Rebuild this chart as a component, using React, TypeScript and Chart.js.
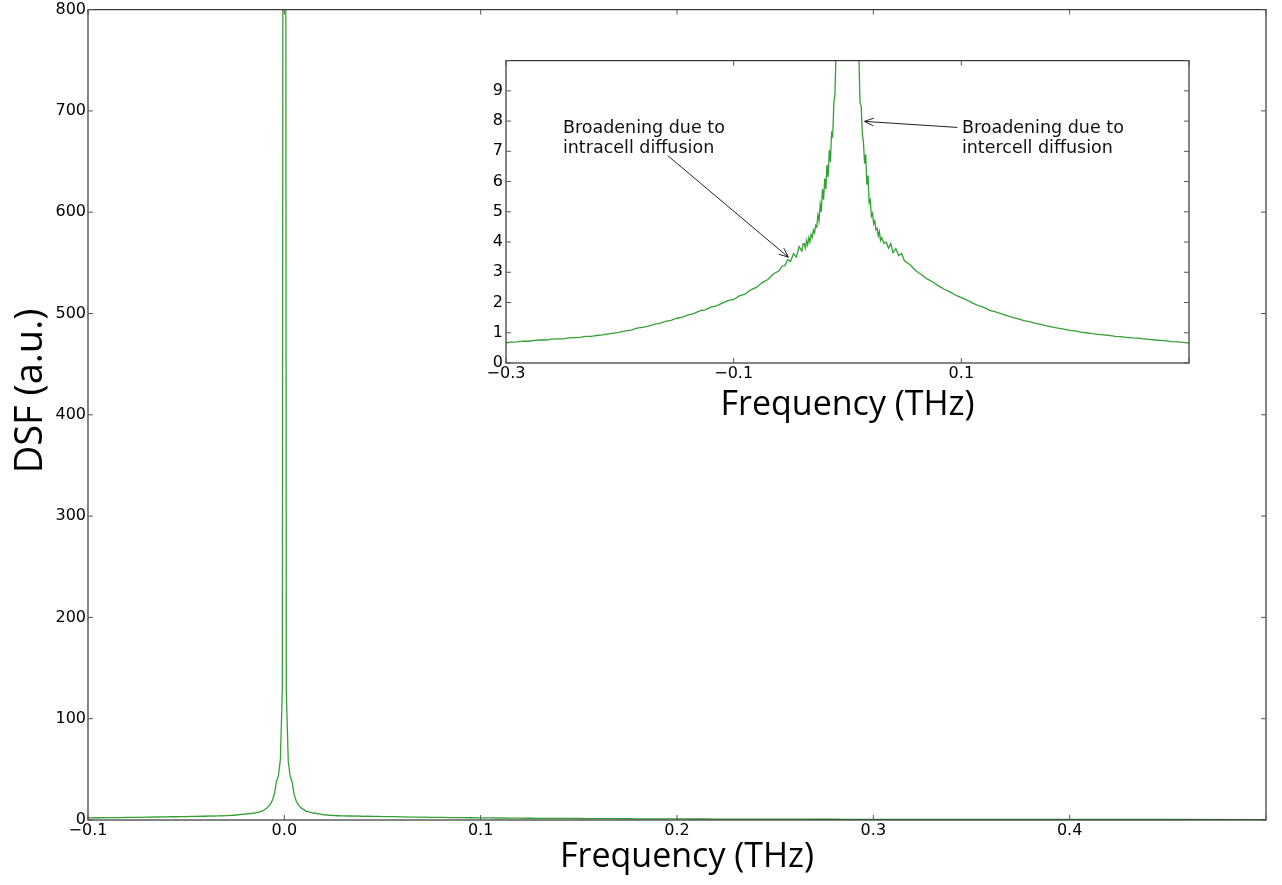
import React, { useEffect, useRef } from "react";
import { Chart, registerables } from "chart.js";

Chart.register(...registerables);

// Frequency (THz)
const freq = [
  -0.300, -0.295, -0.290, -0.285, -0.280, -0.275, -0.270, -0.265, -0.260, -0.255,
  -0.250, -0.245, -0.240, -0.235, -0.230, -0.225, -0.220, -0.215, -0.210, -0.205,
  -0.200, -0.195, -0.190, -0.185, -0.180, -0.175, -0.170, -0.165, -0.160, -0.155,
  -0.150, -0.145, -0.140, -0.135, -0.130, -0.125, -0.120, -0.115, -0.110, -0.105,
  -0.100, -0.095, -0.090, -0.085, -0.080, -0.075, -0.070, -0.065, -0.060, -0.0575,
  -0.055, -0.0525, -0.050, -0.0475, -0.045, -0.0425, -0.040, -0.039,
  -0.038, -0.037, -0.036, -0.035, -0.034, -0.033, -0.032, -0.031, -0.030, -0.029,
  -0.028, -0.027, -0.026, -0.025, -0.024, -0.023, -0.022, -0.021, -0.020, -0.019,
  -0.018, -0.017, -0.016, -0.015, -0.014, -0.013, -0.012, -0.011, -0.010, -0.009,
  -0.008, -0.007, -0.006, -0.005, -0.004, -0.003, -0.002, -0.001,
  0.000,
  0.001, 0.002, 0.003, 0.004, 0.005, 0.006, 0.007, 0.008, 0.009, 0.010,
  0.011, 0.012, 0.013, 0.014, 0.015, 0.016, 0.017, 0.018, 0.019, 0.020,
  0.021, 0.022, 0.023, 0.024, 0.025, 0.026, 0.027, 0.028, 0.029, 0.030,
  0.032, 0.034, 0.036, 0.038, 0.040, 0.0425,
  0.045, 0.0475, 0.050, 0.055, 0.060, 0.065, 0.070, 0.075, 0.080, 0.085, 0.090,
  0.095, 0.100, 0.105, 0.110, 0.115, 0.120, 0.125, 0.130, 0.135, 0.140,
  0.145, 0.150, 0.155, 0.160, 0.165, 0.170, 0.175, 0.180, 0.185, 0.190,
  0.195, 0.200, 0.205, 0.210, 0.215, 0.220, 0.225, 0.230, 0.235, 0.240,
  0.245, 0.250, 0.255, 0.260, 0.265, 0.270, 0.275, 0.280, 0.285, 0.290,
  0.295, 0.300,
  0.350, 0.400, 0.450, 0.500,
];

// Dynamic structure factor (a.u.)
const dsf = [
  0.67, 0.69, 0.70, 0.72, 0.72, 0.75, 0.76, 0.76, 0.79, 0.80,
  0.80, 0.83, 0.84, 0.85, 0.88, 0.88, 0.91, 0.93, 0.96, 0.99,
  1.02, 1.06, 1.09, 1.15, 1.18, 1.22, 1.28, 1.31, 1.38, 1.41,
  1.48, 1.52, 1.59, 1.63, 1.72, 1.76, 1.85, 1.89, 1.98, 2.06,
  2.10, 2.22, 2.28, 2.42, 2.50, 2.66, 2.76, 2.95, 3.05, 3.20,
  3.22, 3.42, 3.36, 3.62, 3.50, 3.85, 3.70, 3.95,
  3.95, 3.80, 4.05, 3.90, 4.15, 4.00, 4.25, 4.15, 4.40, 4.30,
  4.55, 4.50, 4.90, 4.70, 5.25, 5.00, 5.75, 5.40, 6.10, 5.75,
  6.55, 6.15, 7.05, 6.65, 7.60, 7.50, 8.60, 8.90, 10.4, 11.5,
  13.5, 16.0, 20.0, 26.0, 38.0, 44.0, 60.0, 130.0,
  3000.0,
  128.0, 58.0, 43.0, 37.0, 25.0, 19.0, 15.5, 13.0, 11.2, 10.2,
  8.60, 8.50, 7.60, 7.30, 6.60, 6.90, 5.90, 6.20, 5.30, 5.40,
  4.85, 4.95, 4.60, 4.70, 4.40, 4.45, 4.20, 4.35, 4.05, 4.15,
  3.95, 4.00, 3.80, 3.95, 3.65, 3.78,
  3.55, 3.62, 3.38, 3.25, 3.05, 2.92, 2.78, 2.68, 2.55, 2.44, 2.35,
  2.24, 2.16, 2.08, 1.98, 1.90, 1.84, 1.74, 1.69, 1.63, 1.57,
  1.51, 1.46, 1.40, 1.37, 1.31, 1.28, 1.23, 1.19, 1.15, 1.12,
  1.08, 1.06, 1.02, 1.00, 0.97, 0.95, 0.93, 0.91, 0.88, 0.87,
  0.85, 0.83, 0.82, 0.80, 0.78, 0.76, 0.75, 0.73, 0.71, 0.70,
  0.68, 0.66,
  0.58, 0.52, 0.47, 0.43,
];

const xTitle = "Frequency (THz)";
const yTitle = "DSF (a.u.)";

// Annotation texts and their anchor/arrow points in inset data coordinates
const annoIntraText = ["Broadening due to", "intracell diffusion"];
const annoIntraTextPos = [-0.25, 7.62];
const annoIntraFrom = [-0.158, 6.86];
const annoIntraHead = [-0.052, 3.5];

const annoInterText = ["Broadening due to", "intercell diffusion"];
const annoInterTextPos = [0.1005, 7.62];
const annoInterFrom = [0.0965, 7.79];
const annoInterHead = [0.0149, 7.99];

const LINE_COLOR = "#34a034";
const TICK_FONT = "DejaVu Sans";
const TITLE_FONT = "Open Sans";

const fmt = (v: number) => {
  const r = Math.round(v * 10) / 10;
  return r.toFixed(1).replace("-", "\u2212");
};

const framePlugin = {
  id: "frame",
  beforeDatasetsDraw(chart: any) {
    const { ctx, chartArea: a } = chart;
    ctx.save();
    ctx.fillStyle = "#fff";
    ctx.fillRect(a.left, a.top, a.right - a.left, a.bottom - a.top);
    ctx.restore();
  },
  afterDraw(chart: any) {
    const { ctx, chartArea: a, scales } = chart;
    const opts = chart.options.plugins.frame || {};
    ctx.save();
    ctx.strokeStyle = "#333";
    ctx.lineWidth = 1.2;
    ctx.strokeRect(a.left, a.top, a.right - a.left, a.bottom - a.top);
    const len = 5;
    ctx.lineWidth = 1;
    ctx.strokeStyle = "#555";
    ctx.beginPath();
    scales.x.ticks.forEach((t: any) => {
      const px = scales.x.getPixelForValue(t.value);
      ctx.moveTo(px, a.bottom);
      ctx.lineTo(px, a.bottom - len);
      ctx.moveTo(px, a.top);
      ctx.lineTo(px, a.top + len);
    });
    scales.y.ticks.forEach((t: any) => {
      const py = scales.y.getPixelForValue(t.value);
      ctx.moveTo(a.left, py);
      ctx.lineTo(a.left + len, py);
      ctx.moveTo(a.right, py);
      ctx.lineTo(a.right - len, py);
    });
    ctx.stroke();

    // axis titles
    ctx.fillStyle = "#000";
    ctx.textBaseline = "alphabetic";
    ctx.textAlign = "center";
    if (opts.xTitle) {
      ctx.font = `${opts.xTitleSize}px "${TITLE_FONT}"`;
      ctx.fillText(opts.xTitle, (a.left + a.right) / 2 + (opts.xTitleDx || 0), a.bottom + opts.xTitleBaseline);
    }
    if (opts.yTitle) {
      ctx.save();
      ctx.translate(opts.yTitleX, opts.yTitleY);
      ctx.rotate(-Math.PI / 2);
      ctx.font = `${opts.yTitleSize}px "${TITLE_FONT}"`;
      ctx.fillText(opts.yTitle, 0, 0);
      ctx.restore();
    }
    ctx.restore();
  },
};

function drawArrow(ctx: CanvasRenderingContext2D, x0: number, y0: number, x1: number, y1: number) {
  ctx.beginPath();
  ctx.moveTo(x0, y0);
  ctx.lineTo(x1, y1);
  const ang = Math.atan2(y1 - y0, x1 - x0);
  const hl = 10;
  const spread = 0.4;
  ctx.moveTo(x1 - hl * Math.cos(ang - spread), y1 - hl * Math.sin(ang - spread));
  ctx.lineTo(x1, y1);
  ctx.lineTo(x1 - hl * Math.cos(ang + spread), y1 - hl * Math.sin(ang + spread));
  ctx.stroke();
}

const annotationPlugin = {
  id: "annos",
  afterDatasetsDraw(chart: any) {
    const { ctx, scales } = chart;
    const X = (v: number) => scales.x.getPixelForValue(v);
    const Y = (v: number) => scales.y.getPixelForValue(v);
    ctx.save();
    ctx.fillStyle = "#111";
    ctx.strokeStyle = "#222";
    ctx.lineWidth = 1;
    ctx.font = `17.5px "${TICK_FONT}"`;
    ctx.textAlign = "left";
    ctx.textBaseline = "alphabetic";
    const items = [
      [annoIntraText, annoIntraTextPos, annoIntraFrom, annoIntraHead],
      [annoInterText, annoInterTextPos, annoInterFrom, annoInterHead],
    ] as any[];
    items.forEach(([lines, pos, from, head]) => {
      lines.forEach((ln: string, i: number) => {
        ctx.fillText(ln, X(pos[0]), Y(pos[1]) + i * 20);
      });
      drawArrow(ctx, X(from[0]), Y(from[1]), X(head[0]), Y(head[1]));
    });
    ctx.restore();
  },
};

export default function App() {
  const mainRef = useRef<HTMLCanvasElement>(null);
  const insetRef = useRef<HTMLCanvasElement>(null);

  useEffect(() => {
    const points = freq.map((f, i) => ({ x: f, y: dsf[i] }));
    const dataset = () => ({
      data: points,
      borderColor: LINE_COLOR,
      borderWidth: 1.3,
      pointRadius: 0,
      tension: 0,
      fill: false,
    });

    const main = new Chart(mainRef.current!, {
      type: "line",
      data: { datasets: [dataset() as any] },
      plugins: [framePlugin as any],
      options: {
        animation: false,
        responsive: true,
        maintainAspectRatio: false,
        layout: { padding: { top: 6, right: 16, left: 0, bottom: 0 } },
        plugins: {
          legend: { display: false },
          tooltip: { enabled: false },
          frame: {
            xTitle,
            xTitleSize: 34,
            xTitleBaseline: 47,
            xTitleDx: 10,
            yTitle,
            yTitleSize: 38,
            yTitleX: 42,
            yTitleY: 393,
          },
        } as any,
        scales: {
          x: {
            type: "linear",
            min: -0.1,
            max: 0.5,
            grid: { display: false, drawTicks: false },
            border: { display: false },
            ticks: {
              stepSize: 0.1,
              padding: 1,
              maxRotation: 0,
              color: "#000",
              font: { family: TICK_FONT, size: 16 },
              callback: (v: any) => (v > 0.45 ? "" : fmt(Number(v))),
            },
            afterFit: (s: any) => {
              s.height = 65;
            },
          },
          y: {
            type: "linear",
            min: 0,
            max: 800,
            grid: { display: false, drawTicks: false },
            border: { display: false },
            ticks: {
              stepSize: 100,
              padding: 2,
              color: "#000",
              font: { family: TICK_FONT, size: 16 },
            },
            afterFit: (s: any) => {
              s.width = 88;
            },
          },
        },
      },
    });

    const inset = new Chart(insetRef.current!, {
      type: "line",
      data: { datasets: [dataset() as any] },
      plugins: [framePlugin as any, annotationPlugin as any],
      options: {
        animation: false,
        responsive: true,
        maintainAspectRatio: false,
        layout: { padding: { top: 8, right: 11, left: 0, bottom: 0 } },
        plugins: {
          legend: { display: false },
          tooltip: { enabled: false },
          frame: {
            xTitle,
            xTitleSize: 34,
            xTitleBaseline: 52,
            xTitleDx: 0,
          },
        } as any,
        scales: {
          x: {
            type: "linear",
            min: -0.3,
            max: 0.3,
            grid: { display: false, drawTicks: false },
            border: { display: false },
            ticks: {
              stepSize: 0.2,
              padding: 1,
              maxRotation: 0,
              color: "#000",
              font: { family: TICK_FONT, size: 16 },
              callback: (v: any) => (v > 0.25 ? "" : fmt(Number(v))),
            },
            afterFit: (s: any) => {
              s.height = 67;
            },
          },
          y: {
            type: "linear",
            min: 0,
            max: 10,
            grid: { display: false, drawTicks: false },
            border: { display: false },
            ticks: {
              stepSize: 1,
              padding: 3,
              color: "#000",
              font: { family: TICK_FONT, size: 16 },
              callback: (v: any) => (Number(v) >= 10 ? "" : String(v)),
            },
            afterFit: (s: any) => {
              s.width = 36;
            },
          },
        },
      },
    });

    return () => {
      main.destroy();
      inset.destroy();
    };
  }, []);

  return (
    <div style={{ position: "fixed", left: 0, top: 0, width: 1282, height: 885, background: "#fff", overflow: "hidden" }}>
      <div style={{ position: "absolute", left: 0, top: -2, width: 1282, height: 887 }}>
        <canvas ref={mainRef} />
      </div>
      <div style={{ position: "absolute", left: 470, top: 48, width: 730, height: 382 }}>
        <canvas ref={insetRef} />
      </div>
    </div>
  );
}
